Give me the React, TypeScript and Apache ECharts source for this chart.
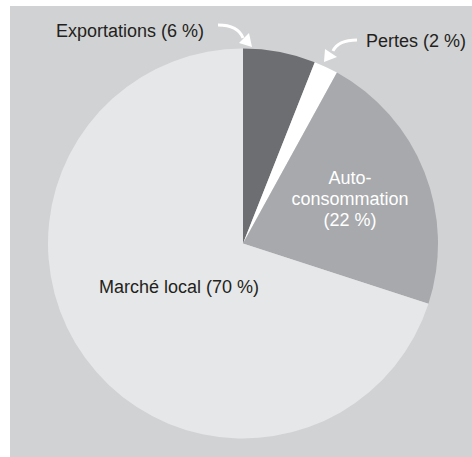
import React, { useEffect, useRef } from "react";
import * as echarts from "echarts";

const categories = ["Exportations", "Pertes", "Auto-\nconsommation", "Marché local"];
const values = [6, 2, 22, 70];
const colors = ["#6d6e71", "#ffffff", "#a7a9ac", "#e6e7e8"];
const labelColors = ["#231f20", "#231f20", "#ffffff", "#231f20"];
const labelPositions: [number, number][] = [
  [130, 31],
  [416, 41],
  [350, 199],
  [179, 287],
];

export default function App() {
  const ref = useRef<HTMLDivElement>(null);
  useEffect(() => {
    document.body.style.margin = "0";
    const chart = echarts.init(ref.current!, null, { renderer: "svg" });
    chart.setOption({
      animation: false,
      backgroundColor: "#ffffff",
      graphic: [
        {
          type: "rect",
          z: -10,
          silent: true,
          shape: { x: 10, y: 6, width: 462, height: 451 },
          style: { fill: "#d1d2d4" },
        },
        {
          type: "bezierCurve",
          z: 100,
          shape: { x1: 218, y1: 25, cpx1: 238, cpy1: 25, x2: 243, y2: 38 },
          style: { stroke: "#ffffff", lineWidth: 3, fill: null },
        },
        {
          type: "polygon",
          z: 100,
          shape: { points: [[239, 43], [249, 33], [252, 47]] },
          style: { fill: "#ffffff", stroke: null },
        },
        {
          type: "bezierCurve",
          z: 100,
          shape: { x1: 357, y1: 40, cpx1: 338, cpy1: 40, x2: 333, y2: 51 },
          style: { stroke: "#ffffff", lineWidth: 3, fill: null },
        },
        {
          type: "polygon",
          z: 100,
          shape: { points: [[325, 49], [337, 57], [324, 62]] },
          style: { fill: "#ffffff", stroke: null },
        },
      ],
      series: [
        {
          type: "pie",
          center: [243, 243.5],
          radius: [0, 195],
          startAngle: 90,
          clockwise: true,
          silent: true,
          itemStyle: { borderWidth: 0 },
          labelLine: { show: false },
          label: {
            show: true,
            position: "inside",
            fontFamily: "'Liberation Sans', Arial, sans-serif",
            fontSize: 18,
            lineHeight: 21,
            align: "center",
            textBorderWidth: 0,
            textBorderColor: "transparent",
            formatter: (p: any) => `${p.name} (${p.value} %)`.replace("consommation (", "consommation\n("),
          },
          labelLayout: (p: any) => ({
            x: labelPositions[p.dataIndex][0],
            y: labelPositions[p.dataIndex][1],
            align: "center",
            verticalAlign: "middle",
          }),
          data: categories.map((name, i) => ({
            name,
            value: values[i],
            itemStyle: { color: colors[i] },
            label: { color: labelColors[i] },
            labelLine: { show: false },
          })),
        },
      ],
    });
    return () => chart.dispose();
  }, []);
  return <div ref={ref} style={{ width: 472, height: 457 }} />;
}
